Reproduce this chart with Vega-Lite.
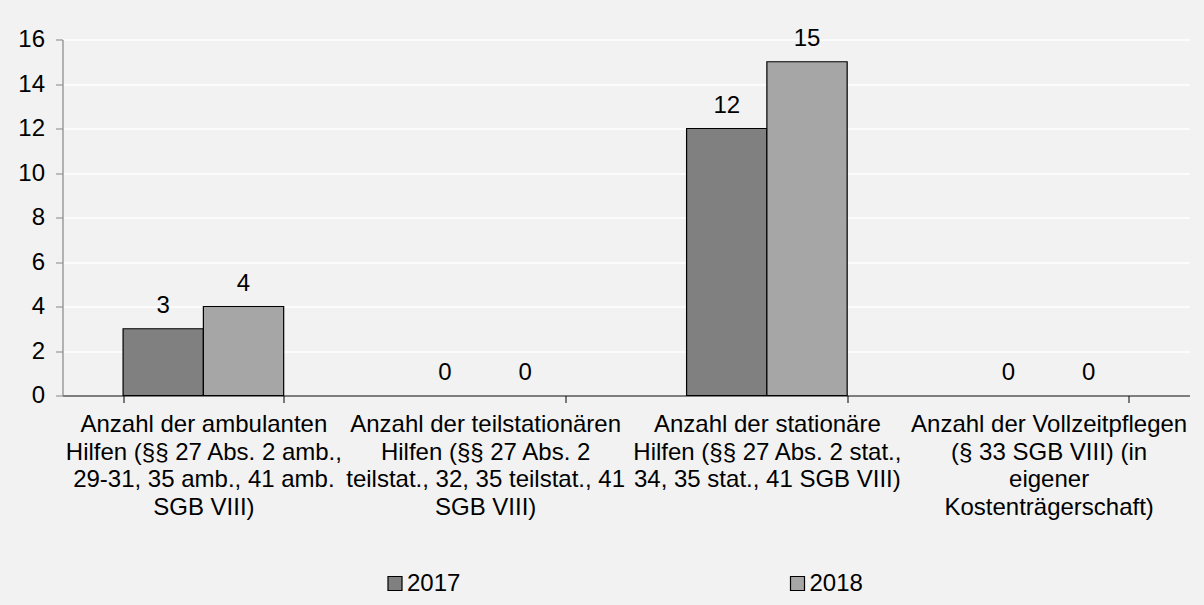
{
  "$schema": "https://vega.github.io/schema/vega-lite/v6.json",
  "width": 1127,
  "height": 356,
  "autosize": {"type": "none"},
  "padding": {"left": 62.5, "top": 39.5, "right": 14.5, "bottom": 209.5},
  "background": "#f2f2f2",
  "config": {"view": {"stroke": null}, "font": "Liberation Sans"},
  "data": {
    "values": [
      {"kategorie": "Anzahl der ambulanten|Hilfen (§§ 27 Abs. 2 amb.,|29-31, 35 amb., 41 amb.|SGB VIII)", "jahr": "2017", "wert": 3},
      {"kategorie": "Anzahl der ambulanten|Hilfen (§§ 27 Abs. 2 amb.,|29-31, 35 amb., 41 amb.|SGB VIII)", "jahr": "2018", "wert": 4},
      {"kategorie": "Anzahl der teilstationären|Hilfen (§§ 27 Abs. 2|teilstat., 32, 35 teilstat., 41|SGB VIII)", "jahr": "2017", "wert": 0},
      {"kategorie": "Anzahl der teilstationären|Hilfen (§§ 27 Abs. 2|teilstat., 32, 35 teilstat., 41|SGB VIII)", "jahr": "2018", "wert": 0},
      {"kategorie": "Anzahl der stationäre|Hilfen (§§ 27 Abs. 2 stat.,|34, 35 stat., 41 SGB VIII)", "jahr": "2017", "wert": 12},
      {"kategorie": "Anzahl der stationäre|Hilfen (§§ 27 Abs. 2 stat.,|34, 35 stat., 41 SGB VIII)", "jahr": "2018", "wert": 15},
      {"kategorie": "Anzahl der Vollzeitpflegen|(§ 33 SGB VIII) (in|eigener|Kostenträgerschaft)", "jahr": "2017", "wert": 0},
      {"kategorie": "Anzahl der Vollzeitpflegen|(§ 33 SGB VIII) (in|eigener|Kostenträgerschaft)", "jahr": "2018", "wert": 0}
    ]
  },
  "encoding": {
    "x": {
      "field": "kategorie",
      "type": "nominal",
      "sort": null,
      "scale": {
        "domain": [
          "Anzahl der ambulanten|Hilfen (§§ 27 Abs. 2 amb.,|29-31, 35 amb., 41 amb.|SGB VIII)",
          "Anzahl der teilstationären|Hilfen (§§ 27 Abs. 2|teilstat., 32, 35 teilstat., 41|SGB VIII)",
          "Anzahl der stationäre|Hilfen (§§ 27 Abs. 2 stat.,|34, 35 stat., 41 SGB VIII)",
          "Anzahl der Vollzeitpflegen|(§ 33 SGB VIII) (in|eigener|Kostenträgerschaft)"
        ],
        "paddingInner": 0.43,
        "paddingOuter": 0.215
      },
      "axis": {
        "title": null,
        "labelExpr": "split(datum.label, '|')",
        "labelAngle": 0,
        "labelAlign": "center",
        "labelBaseline": "top",
        "labelFontSize": 24,
        "labelLineHeight": 27.5,
        "labelPadding": 10,
        "labelLimit": 500,
        "labelOverlap": false,
        "labelBound": false,
        "labelColor": "black",
        "domainColor": "black",
        "domainWidth": 1,
        "tickColor": "black",
        "tickSize": 7,
        "tickBand": "extent",
        "grid": false
      }
    },
    "xOffset": {"field": "jahr", "type": "nominal", "scale": {"domain": ["2017", "2018"], "paddingInner": 0, "paddingOuter": 0}},
    "y": {
      "field": "wert",
      "type": "quantitative",
      "scale": {"domain": [0, 16], "nice": false},
      "axis": {
        "title": null,
        "values": [0, 2, 4, 6, 8, 10, 12, 14, 16],
        "labelFontSize": 24,
        "labelColor": "black",
        "labelPadding": 11,
        "domainColor": "#868686",
        "domainWidth": 1.2,
        "tickColor": "#868686",
        "tickSize": 7,
        "gridColor": "#ffffff",
        "gridWidth": 1.5
      }
    }
  },
  "layer": [
    {
      "transform": [{"filter": "datum.wert > 0"}],
      "mark": {"type": "bar", "stroke": "black", "strokeWidth": 1.2},
      "encoding": {
        "fill": {
          "field": "jahr",
          "type": "nominal",
          "scale": {"domain": ["2017", "2018"], "range": ["#808080", "#a6a6a6"]},
          "legend": {
            "orient": "none",
            "legendX": 320.5,
            "legendY": 532,
            "direction": "horizontal",
            "title": null,
            "symbolType": "square",
            "symbolSize": 196,
            "symbolStrokeColor": "black",
            "symbolStrokeWidth": 1.2,
            "labelFontSize": 24,
            "labelColor": "black",
            "labelOffset": 0,
            "columnPadding": 324.5,
            "padding": 0
          }
        }
      }
    },
    {
      "mark": {"type": "text", "dy": -16, "baseline": "alphabetic", "fontSize": 24, "font": "Liberation Sans", "color": "black"},
      "encoding": {"text": {"field": "wert", "type": "quantitative"}}
    }
  ]
}
